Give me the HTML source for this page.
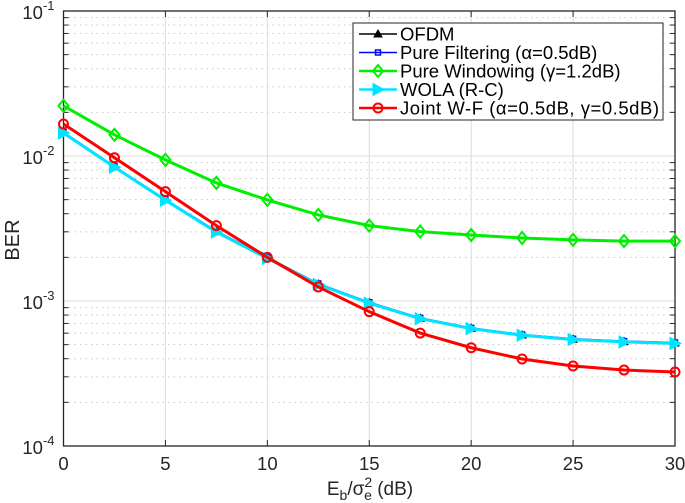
<!DOCTYPE html>
<html><head><meta charset="utf-8"><style>
body{margin:0;background:#fff;}
svg{display:block;font-family:"Liberation Sans",sans-serif;}
</style></head><body>
<svg id="chart" width="685" height="503"></svg>
<script>
const xs=[0,2.5,5,7.5,10,12.5,15,17.5,20,22.5,25,27.5,30];
const ofdm=[0.0145,0.00843,0.00498,0.00301,0.00198,0.00131,0.000973,0.00076,0.000649,0.000583,0.000545,0.000525,0.000513];
const filt=[0.0146,0.00848,0.00502,0.00304,0.002,0.00132,0.00098,0.000765,0.000653,0.000587,0.000549,0.000529,0.000517];
const wind=[0.0222,0.0140,0.0094,0.00652,0.00498,0.00392,0.00331,0.00301,0.00285,0.00272,0.00264,0.00259,0.00259];
const wola=[0.0144,0.00838,0.00495,0.00299,0.00197,0.0013,0.000965,0.000755,0.000645,0.00058,0.000542,0.000522,0.00051];
const joint=[0.01663,0.00973,0.00568,0.00331,0.002,0.00125,0.000844,0.000601,0.000476,0.000398,0.000356,0.000334,0.000324];
const xTicks=[0,5,10,15,20,25,30];
const yDecades=[-1,-2,-3,-4];
const legendLabels=["OFDM","Pure Filtering (\u03b1=0.5dB)","Pure Windowing (\u03b3=1.2dB)","WOLA (R-C)","Joint W-F (\u03b1=0.5dB, \u03b3=0.5dB)"];

const L=63.5,R=675,T=11,B=446;
const X=v=>L+(v-0)/30*(R-L);
const Y=v=>T+(-1-Math.log10(v))/3*(B-T);
const NS="http://www.w3.org/2000/svg";
const svg=document.getElementById('chart');
function mk(tag,attrs,parent){const e=document.createElementNS(NS,tag);for(const k in attrs)e.setAttribute(k,attrs[k]);(parent||svg).appendChild(e);return e;}

for(let d=-4;d<-1;d++){for(let m=2;m<=9;m++){const y=Y(m*Math.pow(10,d));
const g=mk('line',{x1:L,x2:R,y1:y,y2:y,stroke:'#c8c8c8','stroke-width':1,'stroke-dasharray':'1.5,4'});

for(const [a,b] of [[L,L+5],[R,R-5]]){const t=mk('line',{x1:a,x2:b,y1:y,y2:y,stroke:'#262626','stroke-width':1});}
}}
yDecades.forEach(d=>{const y=Y(Math.pow(10,d));
const g=mk('line',{x1:L,x2:R,y1:y,y2:y,stroke:'#dcdcdc','stroke-width':1});

const t=mk('text',{x:L-9,y:y+8,'text-anchor':'end','font-size':18.5,fill:'#262626'});

t.textContent='10';const s=mk('tspan',{dy:-9,'font-size':13},t);s.textContent=String(d);
});
xTicks.forEach(v=>{const x=X(v);
const g=mk('line',{x1:x,x2:x,y1:T,y2:B,stroke:'#dcdcdc','stroke-width':1});

for(const [a,b] of [[B,B-6],[T,T+6]]){const tk=mk('line',{x1:x,x2:x,y1:a,y2:b,stroke:'#262626'});}
const t=mk('text',{x:x,y:B+24,'text-anchor':'middle','font-size':18.5,fill:'#262626'});
t.textContent=v;
});
const box=mk('rect',{x:L,y:T,width:R-L,height:B-T,fill:'none',stroke:'#262626','stroke-width':1.3});


function marker(type,x,y,color,g){
 if(type==='tri')return mk('polygon',{points:`${x},${y-4} ${x-4},${y+3} ${x+4},${y+3}`,fill:color,stroke:color},g);
 if(type==='sq')return mk('rect',{x:x-2.5,y:y-2.5,width:5,height:5,fill:'none',stroke:color,'stroke-width':1.5},g);
 if(type==='dia')return mk('polygon',{points:`${x},${y-6} ${x-5},${y} ${x},${y+6} ${x+5},${y}`,fill:'none',stroke:color,'stroke-width':2},g);
 if(type==='rtri')return mk('polygon',{points:`${x-5},${y-6} ${x+6},${y} ${x-5},${y+6}`,fill:color,stroke:color},g);
 return mk('circle',{cx:x,cy:y,r:4.5,fill:'none',stroke:color,'stroke-width':2},g);
}
const series=[[ofdm,'#000','tri',1.5,'ofdm'],[filt,'#0000ff','sq',1.5,'pure-filtering'],[wind,'#00ee00','dia',3,'pure-windowing'],[wola,'#00e5ff','rtri',3,'wola'],[joint,'#ff0000','circ',3,'joint-wf']];
series.forEach(([vals,c,m,w,name])=>{
 const g=mk('g',{});
 const pl=mk('polyline',{points:vals.map((v,i)=>X(xs[i])+','+Y(v)).join(' '),fill:'none',stroke:c,'stroke-width':w},g);
 
 vals.forEach((v,i)=>{const mm=marker(m,X(xs[i]),Y(v),c,g);});
});

const lg=mk('g',{});
const lb=mk('rect',{x:353,y:23,width:310,height:97,fill:'#fff',stroke:'#262626','stroke-width':1},lg);

legendLabels.forEach((lab,i)=>{const y=34+i*18.5;const [v,c,m,w,name]=series[i];
 const e=mk('g',{},lg);
 mk('line',{x1:359,x2:397,y1:y,y2:y,stroke:c,'stroke-width':Math.min(w,2.5)},e);
 marker(m,378,y,c,e);
 const t=mk('text',{x:400,y:y+6.5,'font-size':18.5,fill:'#000',textLength:i==4?259:null});
 e.appendChild(t);if(i!=4)t.removeAttribute('textLength');t.textContent=lab;
});

const yl=mk('text',{x:0,y:0,transform:'translate(19,240) rotate(-90)','text-anchor':'middle','font-size':20,fill:'#262626'});
yl.textContent='BER';
const xl=mk('text',{x:370,y:495,'text-anchor':'middle','font-size':19,fill:'#262626'});

xl.innerHTML='E<tspan dy="5" font-size="14">b</tspan><tspan dy="-5">/σ</tspan><tspan dy="-8" font-size="14">2</tspan><tspan dx="-8" dy="13" font-size="14">e</tspan><tspan dy="-5"> (dB)</tspan>';
</script>
</body></html>
